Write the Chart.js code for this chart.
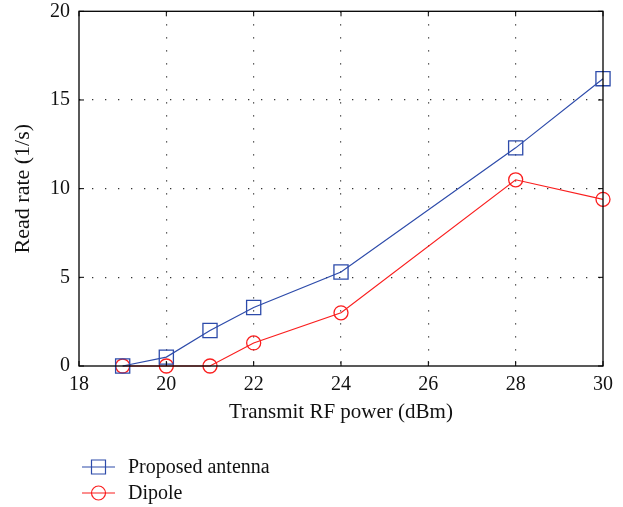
<!DOCTYPE html>
<html>
<head>
<meta charset="utf-8">
<script src="https://cdn.jsdelivr.net/npm/chart.js@4/dist/chart.umd.min.js"></script>
<style>
  html, body { margin: 0; padding: 0; background: #fff; }
  #wrap { width: 623px; height: 507px; position: relative; }
</style>
</head>
<body>
<div id="wrap"><canvas id="c" width="623" height="507"></canvas></div>
<script>
const xTicks = [18, 20, 22, 24, 26, 28, 30];
const yTicks = [0, 5, 10, 15, 20];
const powerProposed = [19, 20, 21, 22, 24, 28, 30];
const rateProposed = [0, 0.5, 2.0, 3.3, 5.3, 12.3, 16.2];
const powerDipole = [19, 20, 21, 22, 24, 28, 30];
const rateDipole = [0, 0, 0, 1.3, 3.0, 10.5, 9.4];
const seriesNames = ['Proposed antenna', 'Dipole'];
const xTitle = 'Transmit RF power (dBm)';
const yTitle = 'Read rate (1/s)';

const FONT = "'Liberation Serif', 'Times New Roman', serif";
const BLUE = 'rgb(45,75,170)';
const RED = 'rgb(250,30,30)';

function toPts(xs, ys) { return xs.map((x, i) => ({ x: x, y: ys[i] })); }

const frame = {
  id: 'frame',
  afterDatasetsDraw(chart) {
    const { ctx, chartArea: a, scales } = chart;
    ctx.save();
    ctx.strokeStyle = '#000';
    ctx.lineWidth = 1.3;
    ctx.strokeRect(a.left, a.top, a.right - a.left, a.bottom - a.top);
    const L = 5;
    ctx.lineWidth = 1;
    ctx.beginPath();
    xTicks.forEach(v => {
      const px = scales.x.getPixelForValue(v);
      ctx.moveTo(px, a.bottom); ctx.lineTo(px, a.bottom - L);
      ctx.moveTo(px, a.top); ctx.lineTo(px, a.top + L);
    });
    yTicks.forEach(v => {
      const py = scales.y.getPixelForValue(v);
      ctx.moveTo(a.left, py); ctx.lineTo(a.left + L, py);
      ctx.moveTo(a.right, py); ctx.lineTo(a.right - L, py);
    });
    ctx.stroke();
    ctx.restore();
  },
  afterDraw(chart) {
    const { ctx } = chart;
    ctx.save();
    const items = chart.data.datasets;
    const x0 = 82, x1 = 115, tx = 128;
    const ys = [467, 493];
    items.forEach((ds, i) => {
      const y = ys[i];
      ctx.strokeStyle = ds.borderColor;
      ctx.lineWidth = 1.2;
      ctx.beginPath(); ctx.moveTo(x0, y); ctx.lineTo(x1, y); ctx.stroke();
      const cx = (x0 + x1) / 2;
      ctx.beginPath();
      if (ds.pointStyle === 'rect') {
        ctx.rect(cx - 7, y - 7, 14, 14);
      } else {
        ctx.arc(cx, y, 7, 0, Math.PI * 2);
      }
      ctx.stroke();
      ctx.fillStyle = '#111';
      ctx.font = '20px ' + FONT;
      ctx.textBaseline = 'middle';
      ctx.textAlign = 'left';
      ctx.fillText(ds.label, tx, y + 1);
    });
    ctx.restore();
  }
};

new Chart(document.getElementById('c'), {
  type: 'line',
  data: {
    datasets: [
      {
        label: seriesNames[0],
        data: toPts(powerProposed, rateProposed),
        borderColor: BLUE,
        backgroundColor: 'rgba(0,0,0,0)',
        borderWidth: 1.2,
        pointStyle: 'rect',
        pointRadius: 10,
        pointBorderWidth: 1.3,
        pointBackgroundColor: 'rgba(0,0,0,0)',
        tension: 0
      },
      {
        label: seriesNames[1],
        data: toPts(powerDipole, rateDipole),
        borderColor: RED,
        backgroundColor: 'rgba(0,0,0,0)',
        borderWidth: 1.2,
        pointStyle: 'circle',
        pointRadius: 7,
        pointBorderWidth: 1.3,
        pointBackgroundColor: 'rgba(0,0,0,0)',
        tension: 0
      }
    ]
  },
  options: {
    responsive: false,
    animation: false,
    devicePixelRatio: 1,
    clip: false,
    layout: { padding: { top: 11, right: 20, bottom: 77, left: 0 } },
    plugins: { legend: { display: false }, tooltip: { enabled: false } },
    scales: {
      x: {
        type: 'linear',
        min: 18, max: 30,
        afterBuildTicks: s => { s.ticks = xTicks.map(v => ({ value: v })); },
        afterFit: s => { s.height = 64; s.paddingLeft = 0; s.paddingRight = 0; },
        ticks: { color: '#111', font: { family: FONT, size: 20 }, padding: 7, maxRotation: 0 },
        grid: {
          drawTicks: false,
          color: ctx => (ctx.tick && (ctx.tick.value === 18 || ctx.tick.value === 30)) ? 'rgba(0,0,0,0)' : '#333',
          lineWidth: 1.2
        },
        border: { display: false, dash: [1.3, 11.7] },
        title: { display: true, text: xTitle, color: '#111', font: { family: FONT, size: 21 }, padding: { top: 0, bottom: 5 } }
      },
      y: {
        type: 'linear',
        min: 0, max: 20,
        afterBuildTicks: s => { s.ticks = yTicks.map(v => ({ value: v })); },
        afterFit: s => { s.width = 79; s.paddingTop = 0; s.paddingBottom = 0; },
        ticks: { color: '#111', font: { family: FONT, size: 20 }, padding: 9 },
        grid: {
          drawTicks: false,
          color: ctx => (ctx.tick && (ctx.tick.value === 0 || ctx.tick.value === 20)) ? 'rgba(0,0,0,0)' : '#333',
          lineWidth: 1.2
        },
        border: { display: false, dash: [1.3, 11.7] },
        title: { display: true, text: yTitle, color: '#111', font: { family: FONT, size: 22 }, padding: { top: 10, bottom: 0 } }
      }
    }
  },
  plugins: [frame]
});
</script>
</body>
</html>
